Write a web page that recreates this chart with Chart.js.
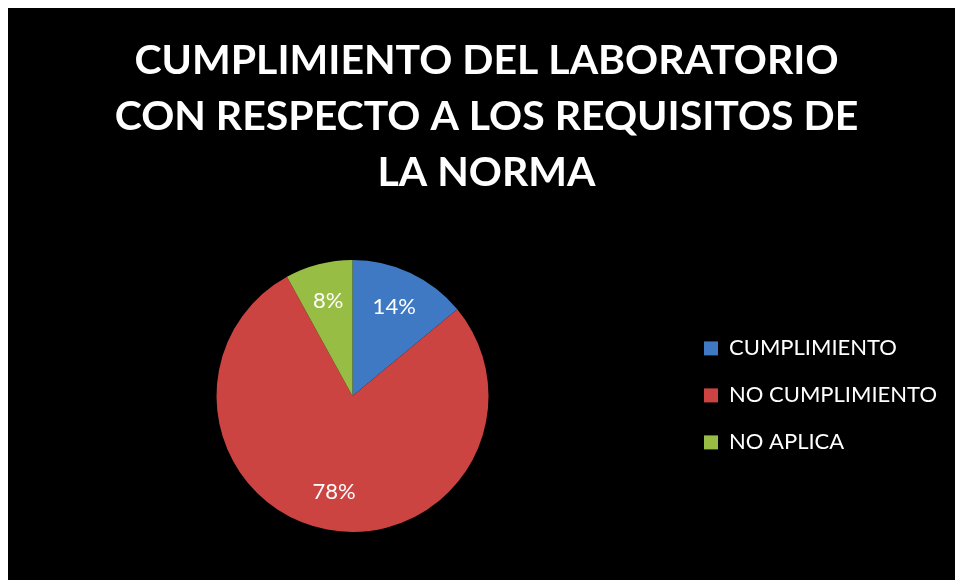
<!DOCTYPE html>
<html>
<head>
<meta charset="utf-8">
<script src="https://cdn.jsdelivr.net/npm/chart.js@4/dist/chart.umd.min.js"></script>
<style>
  html, body { margin: 0; padding: 0; background: #ffffff; width: 955px; height: 580px; overflow: hidden; }
  #wrap { position: absolute; left: 8px; top: 8px; width: 947px; height: 572px; background: #000000; }
</style>
</head>
<body>
<div id="wrap"><canvas id="c"></canvas></div>
<script>
const titleLines = ["CUMPLIMIENTO DEL LABORATORIO", "CON RESPECTO A LOS REQUISITOS DE", "LA NORMA"];
const categories = ["CUMPLIMIENTO", "NO CUMPLIMIENTO", "NO APLICA"];
const percentValues = [14, 78, 8];
const sliceColors = ["#4079C3", "#CB4441", "#98BD45"];

const pctLabels = {
  id: 'pctLabels',
  afterDatasetsDraw(chart) {
    const ctx = chart.ctx;
    const meta = chart.getDatasetMeta(0);
    const data = chart.data.datasets[0].data;
    const total = data.reduce((a, b) => a + b, 0);
    ctx.save();
    ctx.fillStyle = '#ffffff';
    ctx.font = '22px Lato';
    ctx.textAlign = 'center';
    ctx.textBaseline = 'middle';
    meta.data.forEach((arc, i) => {
      const p = arc.getProps(['x', 'y', 'startAngle', 'endAngle', 'outerRadius'], true);
      const mid = (p.startAngle + p.endAngle) / 2;
      const r = p.outerRadius * 0.72;
      const txt = Math.round(data[i] / total * 100) + '%';
      ctx.fillText(txt, p.x + Math.cos(mid) * r, p.y + Math.sin(mid) * r);
    });
    ctx.restore();
  }
};

new Chart(document.getElementById('c'), {
  type: 'pie',
  data: {
    labels: categories,
    datasets: [{
      data: percentValues,
      backgroundColor: sliceColors,
      borderWidth: 0
    }]
  },
  options: {
    responsive: true,
    maintainAspectRatio: false,
    animation: false,
    layout: { padding: { left: 18, right: 8, top: 0, bottom: 48 } },
    plugins: {
      title: {
        display: true,
        text: titleLines,
        color: '#ffffff',
        font: { family: 'Lato', size: 41, weight: 'bold', lineHeight: 56 / 41 },
        padding: { top: 25, bottom: 59 }
      },
      legend: {
        position: 'right',
        align: 'start',
        title: {
          display: true,
          text: '',
          font: { size: 12, lineHeight: 1.2 },
          padding: { top: 290, bottom: 0 }
        },
        labels: {
          color: '#ffffff',
          font: { family: 'Lato', size: 22 },
          boxWidth: 14,
          boxHeight: 14,
          padding: 25
        }
      },
      tooltip: { enabled: false }
    }
  },
  plugins: [pctLabels]
});
</script>
</body>
</html>
